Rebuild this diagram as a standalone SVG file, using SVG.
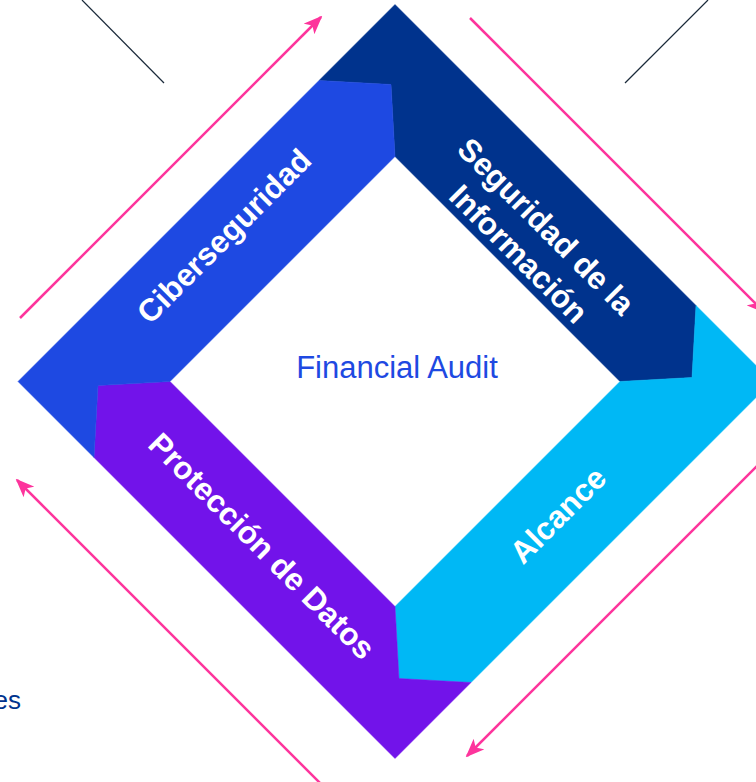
<svg xmlns="http://www.w3.org/2000/svg" width="756" height="782" viewBox="0 0 756 782">
<style>
.lbl{font-family:"Liberation Sans",Arial,sans-serif;font-weight:bold;font-size:31.5px;fill:#FFFFFF;text-anchor:middle}
.title{font-family:"Liberation Sans",Arial,sans-serif;font-size:31px;fill:#1E49E2;text-anchor:middle}
.pink{stroke:#FD349C;stroke-width:2.5;fill:none;marker-end:url(#ah)}
.thin{stroke:#1B2A3A;stroke-width:1.2;fill:none}
</style>
<defs>
<marker id="ah" viewBox="0 0 10 8" refX="9" refY="4" markerWidth="7.5" markerHeight="6" orient="auto" markerUnits="strokeWidth">
<path d="M0,0 L10,4 L0,8 L2.5,4 z" fill="#FD349C"/>
</marker>
</defs>
<rect width="756" height="782" fill="#FFFFFF"/>
<g id="deco-lines">
<line class="thin" x1="82" y1="0" x2="164" y2="83"/>
<line class="thin" x1="625" y1="83" x2="708" y2="0"/>
</g>
<g id="seguridad-informacion">
<polygon points="319,80.5 395,4.5 696,305.5 692,377.5 620,381.5 395,156.5 391,84.5" fill="#00338D" stroke="#00338D" stroke-width="0.5"/>
<g transform="translate(532.5,240) rotate(45)">
<text class="lbl" x="0" y="-8.5">Seguridad de la</text>
<text class="lbl" x="0" y="30.5">Información</text>
</g>
</g>
<g id="alcance">
<polygon points="696,305.5 772,381.5 471,682.5 399,678.5 395,606.5 620,381.5 692,377.5" fill="#00B8F5" stroke="#00B8F5" stroke-width="0.5"/>
<text class="lbl" transform="translate(558,515) rotate(-45)" x="0" y="11">Alcance</text>
</g>
<g id="proteccion-datos">
<polygon points="471,682.5 395,758.5 94,457.5 98,385.5 170,381.5 395,606.5 399,678.5" fill="#7213EA" stroke="#7213EA" stroke-width="0.5"/>
<text class="lbl" transform="translate(262,546) rotate(45)" x="0" y="11">Protección de Datos</text>
</g>
<g id="ciberseguridad">
<polygon points="94,457.5 18,381.5 319,80.5 391,84.5 395,156.5 170,381.5 98,385.5" fill="#1E49E2" stroke="#1E49E2" stroke-width="0.5"/>
<text class="lbl" transform="translate(224,236) rotate(-45)" x="0" y="11">Ciberseguridad</text>
</g>
<g id="financial-audit">
<text class="title" x="397" y="378">Financial Audit</text>
</g>
<g id="connectors">
<line class="pink" x1="20" y1="318" x2="321" y2="17"/>
<line class="pink" x1="470" y1="18" x2="764" y2="312"/>
<line class="pink" x1="772" y1="451" x2="467" y2="756"/>
<line class="pink" x1="320" y1="783" x2="17" y2="480"/>
</g>
<g id="fragment-text">
<text x="21" y="709" style="font-family:'Liberation Sans',Arial,sans-serif;font-size:26px;fill:#00338D;text-anchor:end">es</text>
</g>
</svg>
